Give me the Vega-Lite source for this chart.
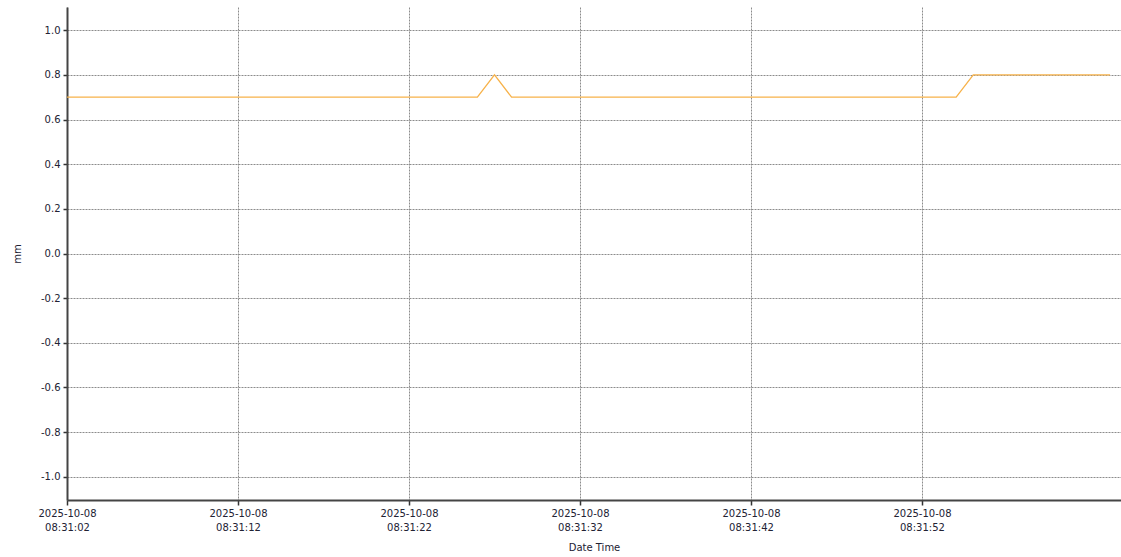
{
  "$schema": "https://vega.github.io/schema/vega-lite/v6.json",
  "width": 1054,
  "height": 493,
  "autosize": {"type": "none"},
  "padding": {"left": 67, "top": 7, "right": 0, "bottom": 57},
  "background": "white",
  "config": {
    "view": {"stroke": null},
    "font": "DejaVu Sans"
  },
  "data": {
    "values": [
      {"time": "2025-10-08T08:31:02Z", "value": 0.7},
      {"time": "2025-10-08T08:31:03Z", "value": 0.7},
      {"time": "2025-10-08T08:31:04Z", "value": 0.7},
      {"time": "2025-10-08T08:31:05Z", "value": 0.7},
      {"time": "2025-10-08T08:31:06Z", "value": 0.7},
      {"time": "2025-10-08T08:31:07Z", "value": 0.7},
      {"time": "2025-10-08T08:31:08Z", "value": 0.7},
      {"time": "2025-10-08T08:31:09Z", "value": 0.7},
      {"time": "2025-10-08T08:31:10Z", "value": 0.7},
      {"time": "2025-10-08T08:31:11Z", "value": 0.7},
      {"time": "2025-10-08T08:31:12Z", "value": 0.7},
      {"time": "2025-10-08T08:31:13Z", "value": 0.7},
      {"time": "2025-10-08T08:31:14Z", "value": 0.7},
      {"time": "2025-10-08T08:31:15Z", "value": 0.7},
      {"time": "2025-10-08T08:31:16Z", "value": 0.7},
      {"time": "2025-10-08T08:31:17Z", "value": 0.7},
      {"time": "2025-10-08T08:31:18Z", "value": 0.7},
      {"time": "2025-10-08T08:31:19Z", "value": 0.7},
      {"time": "2025-10-08T08:31:20Z", "value": 0.7},
      {"time": "2025-10-08T08:31:21Z", "value": 0.7},
      {"time": "2025-10-08T08:31:22Z", "value": 0.7},
      {"time": "2025-10-08T08:31:23Z", "value": 0.7},
      {"time": "2025-10-08T08:31:24Z", "value": 0.7},
      {"time": "2025-10-08T08:31:25Z", "value": 0.7},
      {"time": "2025-10-08T08:31:26Z", "value": 0.7},
      {"time": "2025-10-08T08:31:27Z", "value": 0.8},
      {"time": "2025-10-08T08:31:28Z", "value": 0.7},
      {"time": "2025-10-08T08:31:29Z", "value": 0.7},
      {"time": "2025-10-08T08:31:30Z", "value": 0.7},
      {"time": "2025-10-08T08:31:31Z", "value": 0.7},
      {"time": "2025-10-08T08:31:32Z", "value": 0.7},
      {"time": "2025-10-08T08:31:33Z", "value": 0.7},
      {"time": "2025-10-08T08:31:34Z", "value": 0.7},
      {"time": "2025-10-08T08:31:35Z", "value": 0.7},
      {"time": "2025-10-08T08:31:36Z", "value": 0.7},
      {"time": "2025-10-08T08:31:37Z", "value": 0.7},
      {"time": "2025-10-08T08:31:38Z", "value": 0.7},
      {"time": "2025-10-08T08:31:39Z", "value": 0.7},
      {"time": "2025-10-08T08:31:40Z", "value": 0.7},
      {"time": "2025-10-08T08:31:41Z", "value": 0.7},
      {"time": "2025-10-08T08:31:42Z", "value": 0.7},
      {"time": "2025-10-08T08:31:43Z", "value": 0.7},
      {"time": "2025-10-08T08:31:44Z", "value": 0.7},
      {"time": "2025-10-08T08:31:45Z", "value": 0.7},
      {"time": "2025-10-08T08:31:46Z", "value": 0.7},
      {"time": "2025-10-08T08:31:47Z", "value": 0.7},
      {"time": "2025-10-08T08:31:48Z", "value": 0.7},
      {"time": "2025-10-08T08:31:49Z", "value": 0.7},
      {"time": "2025-10-08T08:31:50Z", "value": 0.7},
      {"time": "2025-10-08T08:31:51Z", "value": 0.7},
      {"time": "2025-10-08T08:31:52Z", "value": 0.7},
      {"time": "2025-10-08T08:31:53Z", "value": 0.7},
      {"time": "2025-10-08T08:31:54Z", "value": 0.7},
      {"time": "2025-10-08T08:31:55Z", "value": 0.8},
      {"time": "2025-10-08T08:31:56Z", "value": 0.8},
      {"time": "2025-10-08T08:31:57Z", "value": 0.8},
      {"time": "2025-10-08T08:31:58Z", "value": 0.8},
      {"time": "2025-10-08T08:31:59Z", "value": 0.8},
      {"time": "2025-10-08T08:32:00Z", "value": 0.8},
      {"time": "2025-10-08T08:32:01Z", "value": 0.8},
      {"time": "2025-10-08T08:32:02Z", "value": 0.8},
      {"time": "2025-10-08T08:32:03Z", "value": 0.8}
    ]
  },
  "mark": {"type": "line", "color": "#f7b24a", "strokeWidth": 1.3, "clip": true},
  "encoding": {
    "x": {
      "field": "time",
      "type": "temporal",
      "title": "Date Time",
      "scale": {
        "type": "utc",
        "domain": [
          {"year": 2025, "month": 10, "date": 8, "hours": 8, "minutes": 31, "seconds": 2, "utc": true},
          {"year": 2025, "month": 10, "date": 8, "hours": 8, "minutes": 32, "seconds": 3, "milliseconds": 640, "utc": true}
        ]
      },
      "axis": {
        "values": [
          {"year": 2025, "month": 10, "date": 8, "hours": 8, "minutes": 31, "seconds": 2, "utc": true},
          {"year": 2025, "month": 10, "date": 8, "hours": 8, "minutes": 31, "seconds": 12, "utc": true},
          {"year": 2025, "month": 10, "date": 8, "hours": 8, "minutes": 31, "seconds": 22, "utc": true},
          {"year": 2025, "month": 10, "date": 8, "hours": 8, "minutes": 31, "seconds": 32, "utc": true},
          {"year": 2025, "month": 10, "date": 8, "hours": 8, "minutes": 31, "seconds": 42, "utc": true},
          {"year": 2025, "month": 10, "date": 8, "hours": 8, "minutes": 31, "seconds": 52, "utc": true}
        ],
        "labelExpr": "[utcFormat(datum.value, '%Y-%m-%d'), utcFormat(datum.value, '%H:%M:%S')]",
        "labelFont": "DejaVu Sans",
        "labelFontSize": 10,
        "labelColor": "#222233",
        "labelPadding": 3,
        "labelLineHeight": 14,
        "labelFlush": false,
        "domainColor": "#444444",
        "domainWidth": 2,
        "tickColor": "#333333",
        "tickSize": 5,
        "tickWidth": 1.5,
        "grid": true,
        "gridColor": "#8c8c8c",
        "gridDash": [2, 1],
        "gridWidth": 1,
        "titleFont": "DejaVu Sans",
        "titleFontSize": 10,
        "titleFontWeight": "normal",
        "titleColor": "#222233",
        "titlePadding": 10
      }
    },
    "y": {
      "field": "value",
      "type": "quantitative",
      "title": "mm",
      "scale": {"domain": [-1.104, 1.104], "nice": false, "zero": false},
      "axis": {
        "values": [-1.0, -0.8, -0.6, -0.4, -0.2, 0.0, 0.2, 0.4, 0.6, 0.8, 1.0],
        "labelExpr": "replace(format(datum.value, '.1f'), '\u2212', '-')",
        "labelFont": "DejaVu Sans",
        "labelFontSize": 10,
        "labelColor": "#222233",
        "labelPadding": 3,
        "domainColor": "#444444",
        "domainWidth": 2,
        "tickColor": "#333333",
        "tickSize": 4,
        "tickWidth": 1.5,
        "grid": true,
        "gridColor": "#8c8c8c",
        "gridDash": [2, 1],
        "gridWidth": 1,
        "titleFont": "DejaVu Sans",
        "titleFontSize": 10,
        "titleFontWeight": "normal",
        "titleColor": "#222233",
        "titlePadding": 18
      }
    }
  }
}
